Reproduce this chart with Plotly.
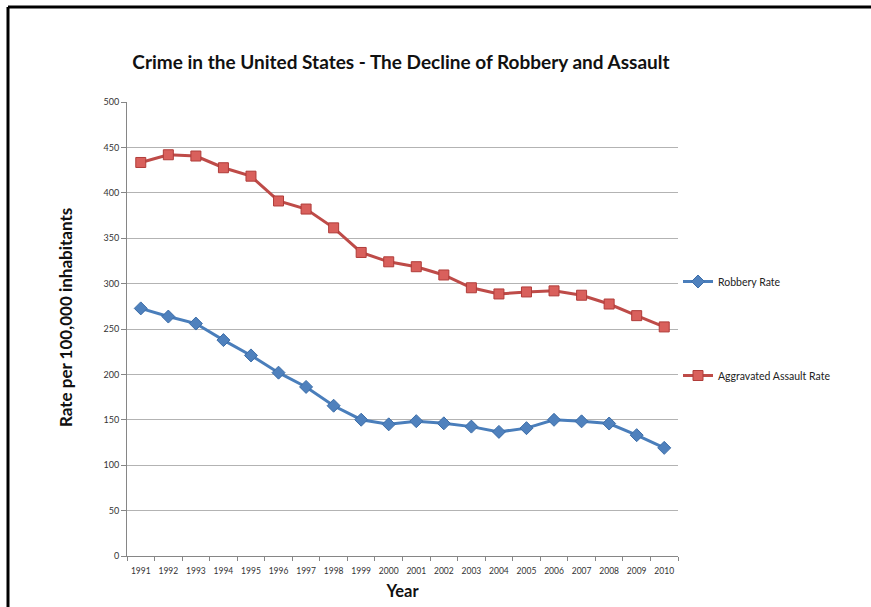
import plotly.graph_objects as go

years = [str(y) for y in range(1991, 2011)]
robbery = [272.7, 263.7, 256.0, 237.8, 220.9, 201.9, 186.2, 165.5, 150.1, 145.0,
           148.5, 146.1, 142.5, 136.7, 140.8, 150.0, 148.3, 145.9, 133.1, 119.1]
assault = [433.4, 441.9, 440.5, 427.6, 418.3, 391.0, 382.1, 361.4, 334.3, 324.0,
           318.6, 309.5, 295.4, 288.6, 290.8, 292.0, 287.2, 277.5, 264.7, 252.3]
y_ticks = [0, 50, 100, 150, 200, 250, 300, 350, 400, 450, 500]

FONT = "Lato"

fig = go.Figure()
fig.add_trace(go.Scatter(
    x=years, y=robbery, name="Robbery Rate", mode="lines+markers",
    line=dict(color="#4A7EBB", width=3),
    marker=dict(symbol="diamond", size=10, color="#4F81BD", line=dict(color="#3C6DA8", width=1)),
    legendgroup="a"))
fig.add_trace(go.Scatter(
    x=years, y=assault, name="Aggravated Assault Rate", mode="lines+markers",
    line=dict(color="#BE4B48", width=3),
    marker=dict(symbol="square", size=10, color="#D9605C", line=dict(color="#B03C39", width=1)),
    legendgroup="b"))

# Frame lines (top and left edges of the original chart box)
PX0, PW, PY1, PH = 127, 551, 556, 454
def xp(px): return (px - PX0) / PW
def yp(py): return (PY1 - py) / PH
fig.add_shape(type="line", xref="paper", yref="paper", x0=xp(8), x1=xp(900),
              y0=yp(7), y1=yp(7), line=dict(color="black", width=3))
fig.add_shape(type="line", xref="paper", yref="paper", x0=xp(8), x1=xp(8),
              y0=yp(7), y1=yp(640), line=dict(color="black", width=3))

fig.add_annotation(text="<b>Rate per 100,000 inhabitants</b>", textangle=-90,
                   xref="paper", yref="paper", x=xp(65), y=yp(318),
                   xanchor="center", yanchor="middle", showarrow=False,
                   font=dict(size=17, family=FONT, color="#111111"))

fig.update_layout(
    width=871, height=607,
    margin=dict(l=127, r=193, t=102, b=51, autoexpand=False),
    paper_bgcolor="white", plot_bgcolor="white",
    font=dict(family=FONT, color="#222222"),
    title=dict(text="<b>Crime in the United States - The Decline of Robbery and Assault</b>",
               x=(401) / 871, xanchor="center", y=1 - 62 / 607, yanchor="middle",
               yref="container", font=dict(size=19, family=FONT, color="#111111")),
    showlegend=True,
    legend=dict(x=1.0, xanchor="left", y=yp(267), yanchor="top",
                font=dict(size=10.5, family=FONT, color="#222222"),
                tracegroupgap=75, traceorder="grouped",
                bgcolor="rgba(0,0,0,0)", borderwidth=0),
    hovermode=False,
)
fig.update_xaxes(
    type="category", range=[-0.5, 19.5], tickson="boundaries", automargin=False,
    ticks="outside", ticklen=4, tickcolor="#868686", tickangle=0,
    ticklabelstandoff=7,
    showline=True, linecolor="#868686", linewidth=1,
    showgrid=False, zeroline=False,
    tickfont=dict(size=8.5, family=FONT, color="#333333"),
    title=dict(text="<b>Year</b>", font=dict(size=16.5, family=FONT, color="#111111"), standoff=10),
)
fig.update_yaxes(
    range=[0, 500], tickvals=y_ticks, automargin=False,
    ticks="outside", ticklen=5, tickcolor="#868686",
    showline=True, linecolor="#868686", linewidth=1,
    showgrid=True, gridcolor="#B3B3B3", gridwidth=1, zeroline=False,
    tickfont=dict(size=9, family=FONT, color="#333333"),
)

fig.write_html("out.html")
